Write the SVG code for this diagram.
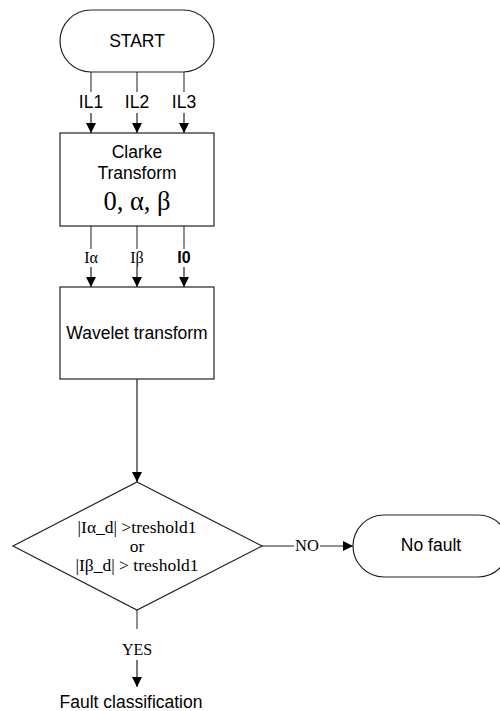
<svg xmlns="http://www.w3.org/2000/svg" width="500" height="711" viewBox="0 0 500 711">
<defs>
<marker id="ah" markerWidth="10" markerHeight="12" refX="10" refY="5" orient="auto" markerUnits="userSpaceOnUse">
<path d="M0,0 L10,5 L0,10 Z" fill="#000"/>
</marker>
<style>
.sh{fill:#fff;stroke:#222;stroke-width:1.2}
.ln{fill:none;stroke:#444;stroke-width:1.2}
.ar{fill:none;stroke:#222;stroke-width:1.2;marker-end:url(#ah)}
.sans{font-family:"Liberation Sans",Arial,sans-serif;fill:#000;text-anchor:middle}
.serif{font-family:"Liberation Serif","Times New Roman",serif;fill:#000;text-anchor:middle}
</style>
</defs>
<rect width="500" height="711" fill="#fff"/>
<g id="connectors">
<line class="ln" x1="91" y1="72" x2="91" y2="92"/>
<line class="ln" x1="137" y1="72" x2="137" y2="92"/>
<line class="ln" x1="184" y1="72" x2="184" y2="92"/>
<line class="ar" x1="91" y1="113" x2="91" y2="133"/>
<line class="ar" x1="137" y1="113" x2="137" y2="133"/>
<line class="ar" x1="184" y1="113" x2="184" y2="133"/>
<text class="sans" x="91" y="108" font-size="17.5">IL1</text>
<text class="sans" x="137" y="108" font-size="17.5">IL2</text>
<text class="sans" x="184" y="108" font-size="17.5">IL3</text>
<line class="ln" x1="91" y1="226" x2="91" y2="249"/>
<line class="ln" x1="137" y1="226" x2="137" y2="249"/>
<line class="ln" x1="184" y1="226" x2="184" y2="249"/>
<line class="ar" x1="91" y1="267" x2="91" y2="287"/>
<line class="ar" x1="137" y1="267" x2="137" y2="287"/>
<line class="ar" x1="184" y1="267" x2="184" y2="287"/>
<text class="serif" x="91" y="263" font-size="16">Iα</text>
<text class="serif" x="137" y="263" font-size="16">Iβ</text>
<text class="sans" x="184" y="263" font-size="16" font-weight="bold">I0</text>
<line class="ar" x1="137" y1="379" x2="137" y2="482"/>
<line class="ln" x1="262" y1="546" x2="294" y2="546"/>
<line class="ar" x1="320" y1="546" x2="353" y2="546"/>
<text class="serif" x="307" y="551" font-size="16.5">NO</text>
<line class="ln" x1="137" y1="610" x2="137" y2="629"/>
<line class="ar" x1="137" y1="660" x2="137" y2="687"/>
<text class="serif" x="137" y="655" font-size="16">YES</text>
</g>
<g id="start">
<rect class="sh" x="60" y="10" width="154" height="62" rx="31" ry="31"/>
<text class="sans" x="137" y="47" font-size="17.5">START</text>
</g>
<g id="clarke">
<rect class="sh" x="60" y="133" width="154" height="93"/>
<text class="sans" x="137" y="158" font-size="17.5">Clarke</text>
<text class="sans" x="137" y="179" font-size="17.5">Transform</text>
<text class="serif" x="137" y="210" font-size="26.5">0, α, β</text>
</g>
<g id="wavelet">
<rect class="sh" x="60" y="287" width="154" height="92"/>
<text class="sans" x="137" y="339" font-size="17.5">Wavelet transform</text>
</g>
<g id="decision">
<polygon class="sh" points="137,482 262,546 137,610 13,546"/>
<text class="serif" x="137" y="533" font-size="17.5">|Iα_d| &gt;treshold1</text>
<text class="serif" x="137" y="552" font-size="17.5">or</text>
<text class="serif" x="137" y="571" font-size="17.5">|Iβ_d| &gt; treshold1</text>
</g>
<g id="nofault">
<rect class="sh" x="353" y="515" width="156" height="62" rx="31" ry="31"/>
<text class="sans" x="431" y="551" font-size="17.5">No fault</text>
</g>
<g id="faultclass">
<text class="sans" x="131" y="708" font-size="17.5">Fault classification</text>
</g>
</svg>
